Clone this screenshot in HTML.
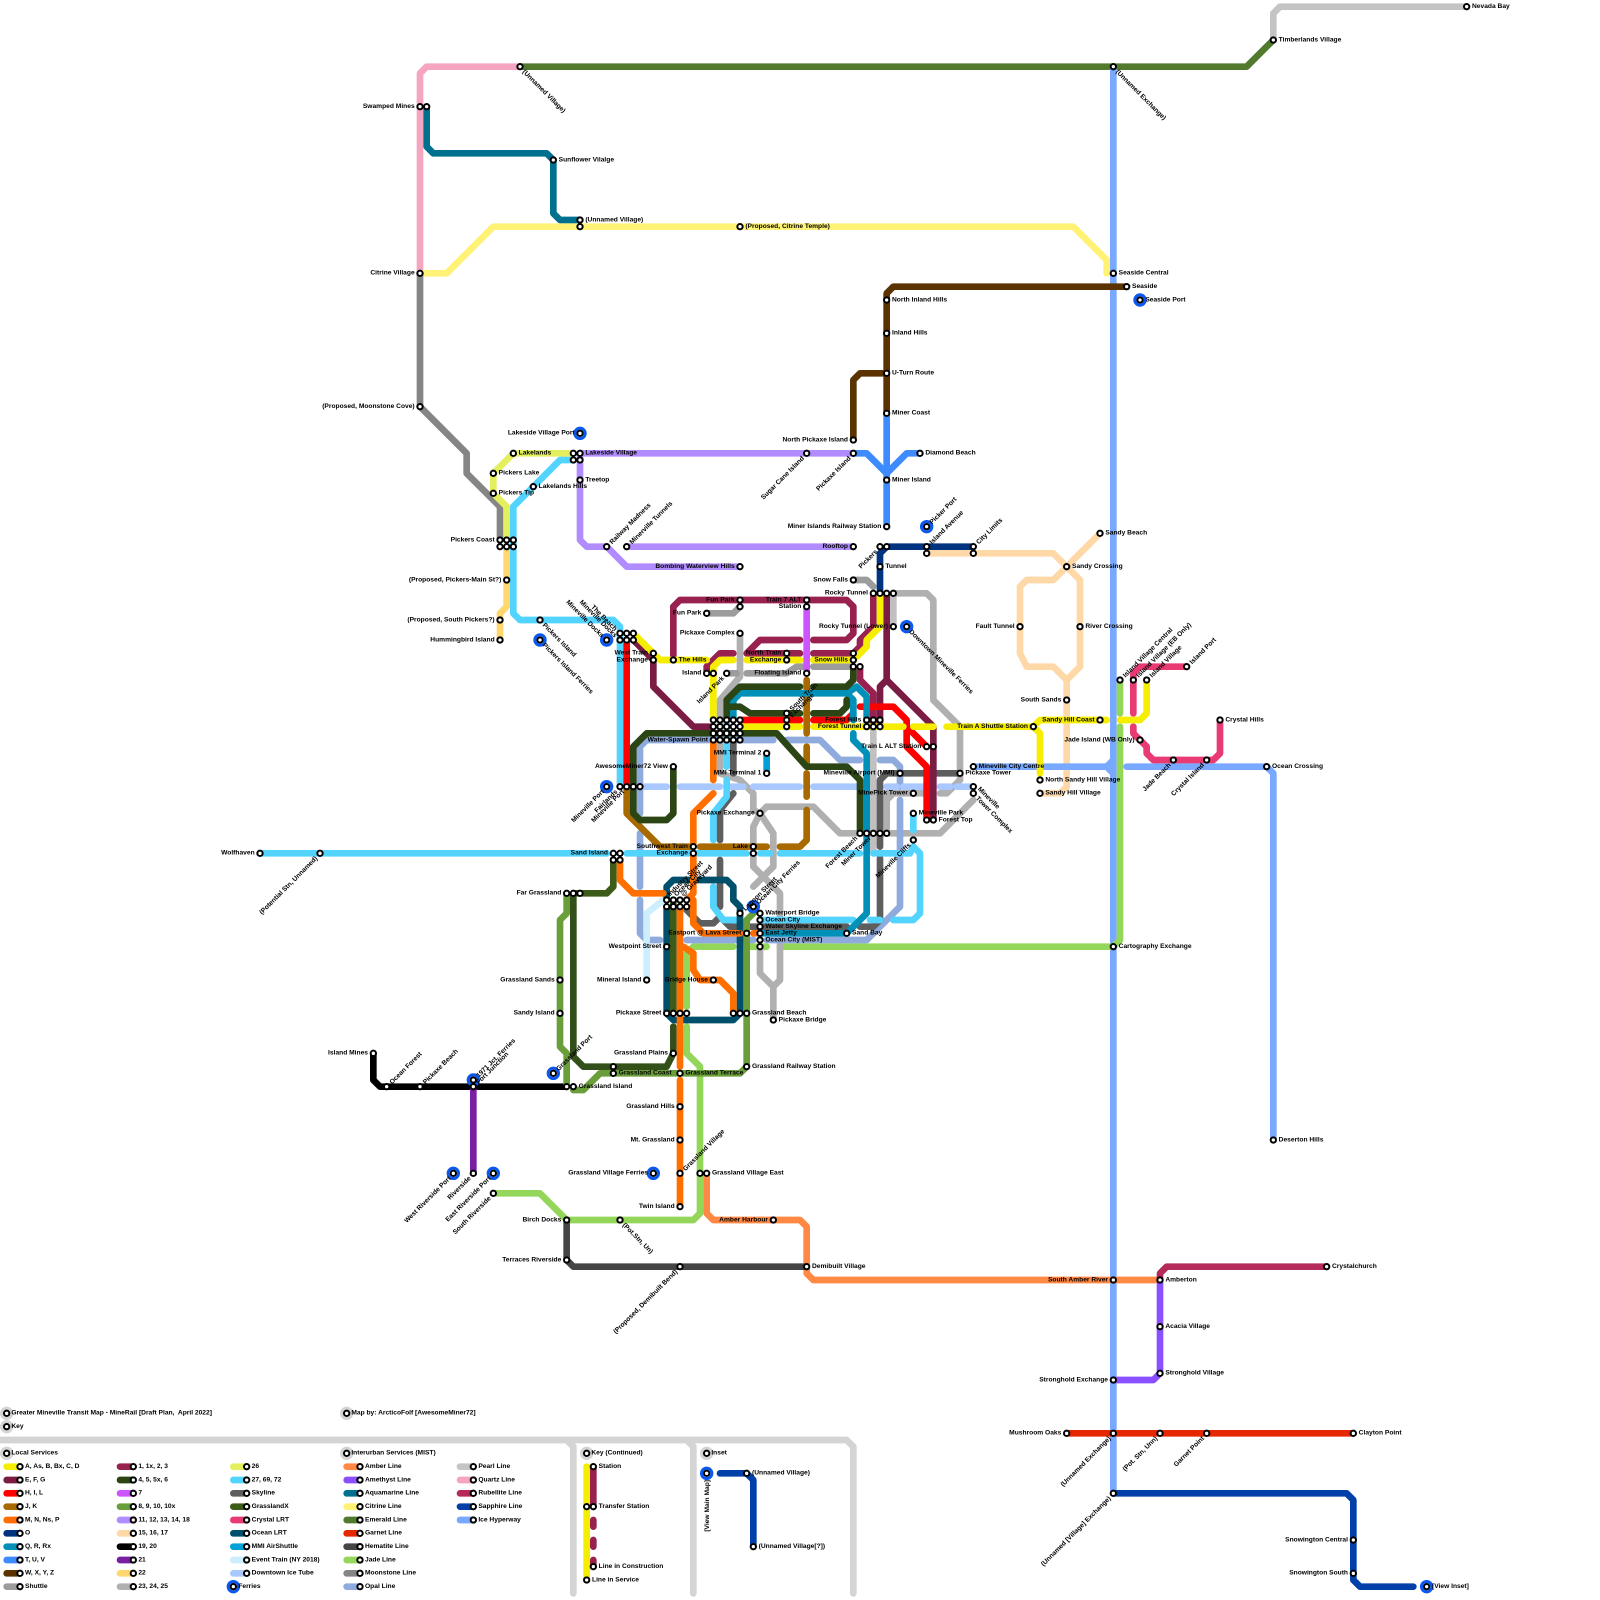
<!DOCTYPE html>
<html><head><meta charset="utf-8"><title>Greater Mineville Transit Map</title>
<style>
html,body{margin:0;padding:0;background:#fff}
svg{display:block;width:1600px;height:1600px}
text{font:bold 1px "Liberation Sans",sans-serif;fill:#000}
.e{text-anchor:end}
.l path{fill:none;stroke-width:1;stroke-linecap:round;stroke-linejoin:round}
.s circle{fill:#fff;stroke:#000;stroke-width:.3;r:.4px}
.f circle{fill:none;stroke:#0a58f0;stroke-width:.45;r:.78px}
.h circle{fill:#d4d4d4;r:1px}
</style></head><body>
<svg xmlns="http://www.w3.org/2000/svg" viewBox="0 0 240 240">
<g class="l">
<!-- legend frame -->
<path stroke="#d4d4d4" d="M0 216H127L128 217V239M85 216L86 217V239M87 216H85M103 216L104 217V239M105 216H103"/>
<!-- interurban -->
<path stroke="#c4c4c4" d="M191 6V2L192 1H220"/>
<path stroke="#527a2e" d="M78 10H187L191 6"/>
<path stroke="#f5a5c0" d="M78 10H64L63 11V41"/>
<path stroke="#00708f" d="M64 16V22L65 23H82L83 24V32L84 33H87"/>
<path stroke="#fff275" d="M63 41H67L74 34H161L166 39V41"/>
<path stroke="#858585" d="M63 41V61L70 68V71L75 76V81"/>
<path stroke="#ffd8a8" d="M139 83H158L160 85L162 87V100L160 102V116M165 80L158 87H154L153 88V98L154 100H158L160 102M160 116V118L159 119H156"/>
<path stroke="#c0c0c0" d="M134 94V89M131 109V128"/>
<path stroke="#78a8ff" d="M167 10V224M146 115H166L167 114M166 115L167 116M169 115H190L191 116V171"/>
<path stroke="#93d65a" d="M168 102V107M168 109V141L167 142H117M115 142H112M110 142H104L103 143V151M103 154V158L105 160V182L104 183H85L81 179H74"/>
<path stroke="#ff8844" d="M106 176V182L107 183H120L121 184V191L122 192H174"/>
<path stroke="#454545" d="M85 183V189L86 190H121"/>
<path stroke="#b42a5a" d="M174 192V191L175 190H199"/>
<path stroke="#8a4fff" d="M174 192V206L173 207H167"/>
<path stroke="#e62800" d="M160 215H203"/>
<path stroke="#0040a8" d="M167 224H202L203 225V237L204 238H212M108 221H112L113 222V232"/>
<!-- local gray services -->
<path stroke="#b0b0b0" d="M134 89H139L140 90V105L144 109V117L142 119H141M139 119H133L133 120V125M129 125H141L146 120M133 120L134 119M137 119H134"/>
<path stroke="#b0b0b0" d="M111 95V101.500L108 105V116L111 117L113 119V121.500L114 122L115 121H122L126 125H129M114 122L116 125V130L113 133M114 122L113 124V130L116 133L117 134V147L116 148V153M114 142V146L116 148"/>
<path stroke="#9c9c9c" d="M128 87H130L131 88M106 92H110L111 91M109 101H110.500M112 101H118L119.500 100H120.500M122 100H127.500"/>
<!-- opal -->
<path stroke="#8faadc" d="M96 122V112L97 111H116M118 111H123L126 114H129M132 114H134L135 115V118M135 120V136L130 141H115M113 141H103M96 125V133M96 135V140L97 141H99"/>
<path stroke="#a8c8ff" d="M96 118H100M102 118H108M109.500 118H111.500M113 118H120M122 118H129M133 118H134.500M135.500 118H139M141 118H142.500M143.500 118H146"/>
<path stroke="#cceeff" d="M97 147V137L99.500 135"/>
<!-- skyline -->
<path stroke="#5e5e5e" d="M110 111V116M110 119L108 121.500V126M108 129V136M103 136.500L105 138.500H107L108 137.500L109.500 139H110.500M112 139H127M129 139H131L132 138V128.700M132 127V117L133 116H138.500M140.500 116H144"/>
<!-- cyan -->
<path stroke="#53d4ff" d="M86 69H84L77 76V92L78 93H92L93 94V118M39 128H91M94 128H103.500M104.500 128H112M114 128H115.500M117 128H129M131 128H136.500L137 127L138 128V137L137 138H134M114 138H128M130.500 138H132M107 133V136L108.500 138H110.500M109 108V115M109 117V119.500L107 122V126M137 122V124.500"/>
<!-- purple 11 -->
<path stroke="#b18cff" d="M87 68H128M87 68V81L88 82H91L94 85H111M94 82H128"/>
<!-- 26, 22 -->
<path stroke="#e4ef5e" d="M86 68H77L74 71V74L76 76V81"/>
<path stroke="#ffd76e" d="M76 82V91L75 92V96"/>
<!-- T U V, brown -->
<path stroke="#3d8bff" d="M128 68H130L133 71L136 68H138M133 62V79"/>
<path stroke="#5a3300" d="M169 43H134L133 44V62M133 56H129L128 57V66"/>
<path stroke="#003380" d="M132 89V83L133 82H146"/>
<!-- black, purple 21 -->
<path stroke="#000" d="M56 158V162L57 163H85"/>
<path stroke="#7b1fa2" d="M71 163V176"/>
<!-- crystal, green -->
<path stroke="#e83b74" d="M170 102V107M170 109V110L172 112V113L173 114H182L183 113V108M170 102V101L171 100H178"/>
<path stroke="#6a9e3a" d="M85 134V137L84 138V157L85 158V163M86 163.500H87.500L90 161H111L112 160V138L113 137"/>
<!-- ocean lrt, grasslandx -->
<path stroke="#3d5c1a" d="M101 135V152M86 134H91L92 133V129"/>
<path stroke="#33501a" d="M101 154V158L100 160H87.500L86 158.500V134"/>
<path stroke="#004f6b" d="M100 135V133L101 132H109L110 133V135L111 136V152L110 153H101L100 152V136"/>
<!-- orange -->
<path stroke="#ff6f00" d="M107 111V117M107 119L104 122V126.500M104 128.500V134L103 135M102 136V160M102 162V181M93 129V132L95 134H99.500M104 135V138.500L105.500 140H111M113 140H114M102.500 142L104 143V145.500L105 147H108L110 149V152"/>
<!-- brown J K -->
<path stroke="#a86a00" d="M94 118V122L99 127H103.500M105 127H115M117 127H120L121 126V121.500M121 119.500V116M121 114.500V112M121 110V102"/>
<!-- violet 7 -->
<path stroke="#cc55ff" d="M121 91V101"/>
<!-- maroon -->
<path stroke="#98214f" d="M101 99V91L102 90H127L128 91V95L127 96H122M120 96H114L112 98M106 101V100L108 98H110M112 98H120M122 98H128L129 97V96L131 94V89M129 100V102L131 104V109"/>
<path stroke="#7a1c44" d="M95 96L98 99V103L104 109H107M133 89V102L132 103V109M133 102L140 109V123"/>
<!-- red -->
<path stroke="#ff0000" d="M94 96V118M111 108H120M122 108H127L128 107M129 106H134L136 108V112L139 115V123M136 109L139 112"/>
<!-- teal Q R -->
<path stroke="#0090b8" d="M110 108V105L111 104H127L128.500 103L130 104.500V109M127 104L128 105V108M128 110V111L130 113V137L127.500 139.500L127 140H114"/>
<path stroke="#00a0d8" d="M115 113V116"/>
<!-- yellow -->
<path stroke="#f5ee00" d="M95 95L99 99H106M107 108V100L108 99H110M112 99H120M122 99H128L130 97V96L132 94V89M111 109H120M122 109H135.500M137 109H140M142 109H155L156 110V116M155 109L156 108H165L166 108M168 108H171L172 107V102"/>
<!-- dark green -->
<path stroke="#2b4514" d="M95 118V112L97 110H116.500L121 115H127L129 117V125M95 113V122L96 123H100L101 122V115M109 108V105L111 103H120M122 103H127L128 102V100M109 106H111L112.500 107H120M122 107H126L127 106V105"/>
<!-- legend swatches -->
<path stroke="#f5ee00" d="M1 220H3M88 220V237"/>
<path stroke="#7a1c44" d="M1 222H3"/><path stroke="#ff0000" d="M1 224H3"/><path stroke="#a86a00" d="M1 226H3"/><path stroke="#ff6f00" d="M1 228H3"/><path stroke="#003380" d="M1 230H3"/><path stroke="#0090b8" d="M1 232H3"/><path stroke="#3d8bff" d="M1 234H3"/><path stroke="#5a3300" d="M1 236H3"/><path stroke="#9c9c9c" d="M1 238H3"/>
<path stroke="#98214f" d="M18 220H20M89 220V226M89 228V229M89 231V232M89 234V235"/><path stroke="#2b4514" d="M18 222H20"/><path stroke="#cc55ff" d="M18 224H20"/><path stroke="#6a9e3a" d="M18 226H20"/><path stroke="#b18cff" d="M18 228H20"/><path stroke="#ffd8a8" d="M18 230H20"/><path stroke="#000" d="M18 232H20"/><path stroke="#7b1fa2" d="M18 234H20"/><path stroke="#ffd76e" d="M18 236H20"/><path stroke="#b0b0b0" d="M18 238H20"/>
<path stroke="#e4ef5e" d="M35 220H37"/><path stroke="#53d4ff" d="M35 222H37"/><path stroke="#5e5e5e" d="M35 224H37"/><path stroke="#3d5c1a" d="M35 226H37"/><path stroke="#e83b74" d="M35 228H37"/><path stroke="#004f6b" d="M35 230H37"/><path stroke="#00a0d8" d="M35 232H37"/><path stroke="#cceeff" d="M35 234H37"/><path stroke="#a8c8ff" d="M35 236H37"/>
<path stroke="#ff8844" d="M52 220H54"/><path stroke="#8a4fff" d="M52 222H54"/><path stroke="#00708f" d="M52 224H54"/><path stroke="#fff275" d="M52 226H54"/><path stroke="#527a2e" d="M52 228H54"/><path stroke="#e62800" d="M52 230H54"/><path stroke="#454545" d="M52 232H54"/><path stroke="#93d65a" d="M52 234H54"/><path stroke="#858585" d="M52 236H54"/><path stroke="#8faadc" d="M52 238H54"/>
<path stroke="#c4c4c4" d="M69 220H71"/><path stroke="#f5a5c0" d="M69 222H71"/><path stroke="#b42a5a" d="M69 224H71"/><path stroke="#0040a8" d="M69 226H71"/><path stroke="#78a8ff" d="M69 228H71"/>
</g>
<g class="h"><circle cx="1" cy="212"/><circle cx="1" cy="214"/><circle cx="52" cy="212"/><circle cx="1" cy="218"/><circle cx="52" cy="218"/><circle cx="88" cy="218"/><circle cx="106" cy="218"/></g>
<g class="f"><circle cx="87" cy="65"/><circle cx="171" cy="45"/><circle cx="139" cy="79"/><circle cx="81" cy="96"/><circle cx="91" cy="96"/><circle cx="136" cy="94"/><circle cx="91" cy="118"/><circle cx="113" cy="136"/><circle cx="83" cy="161"/><circle cx="71" cy="162"/><circle cx="68" cy="176"/><circle cx="74" cy="176"/><circle cx="98" cy="176"/><circle cx="214" cy="238"/><circle cx="35" cy="238"/><circle cx="106" cy="221"/></g>
<g class="s">
<circle cx="220" cy="1"/><circle cx="191" cy="6"/><circle cx="78" cy="10"/><circle cx="167" cy="10"/><circle cx="63" cy="16"/><circle cx="64" cy="16"/><circle cx="83" cy="24"/><circle cx="87" cy="33"/><circle cx="87" cy="34"/><circle cx="111" cy="34"/><circle cx="63" cy="41"/><circle cx="167" cy="41"/><circle cx="169" cy="43"/><circle cx="171" cy="45"/><circle cx="133" cy="45"/><circle cx="133" cy="50"/><circle cx="133" cy="56"/><circle cx="133" cy="62"/><circle cx="63" cy="61"/><circle cx="128" cy="66"/><circle cx="121" cy="68"/><circle cx="128" cy="68"/><circle cx="138" cy="68"/><circle cx="133" cy="72"/><circle cx="133" cy="79"/><circle cx="87" cy="65"/><circle cx="86" cy="68"/><circle cx="87" cy="68"/><circle cx="86" cy="69"/><circle cx="87" cy="69"/><circle cx="77" cy="68"/><circle cx="74" cy="71"/><circle cx="74" cy="74"/><circle cx="80" cy="73"/><circle cx="87" cy="72"/><circle cx="91" cy="82"/><circle cx="94" cy="82"/><circle cx="128" cy="82"/><circle cx="132" cy="82"/><circle cx="133" cy="82"/><circle cx="139" cy="79"/><circle cx="139" cy="82"/><circle cx="139" cy="83"/><circle cx="146" cy="82"/><circle cx="146" cy="83"/><circle cx="132" cy="85"/>
<circle cx="75" cy="81"/><circle cx="76" cy="81"/><circle cx="77" cy="81"/><circle cx="75" cy="82"/><circle cx="76" cy="82"/><circle cx="77" cy="82"/><circle cx="76" cy="87"/><circle cx="75" cy="93"/><circle cx="75" cy="96"/><circle cx="81" cy="93"/><circle cx="81" cy="96"/><circle cx="111" cy="85"/><circle cx="128" cy="87"/><circle cx="131" cy="89"/><circle cx="132" cy="89"/><circle cx="133" cy="89"/><circle cx="134" cy="89"/><circle cx="165" cy="80"/><circle cx="160" cy="85"/><circle cx="162" cy="94"/><circle cx="153" cy="94"/><circle cx="111" cy="90"/><circle cx="111" cy="91"/><circle cx="121" cy="90"/><circle cx="121" cy="91"/><circle cx="106" cy="92"/><circle cx="111" cy="95"/><circle cx="134" cy="94"/><circle cx="136" cy="94"/>
<circle cx="91" cy="96"/><circle cx="93" cy="95"/><circle cx="94" cy="95"/><circle cx="95" cy="95"/><circle cx="93" cy="96"/><circle cx="94" cy="96"/><circle cx="95" cy="96"/><circle cx="98" cy="98"/><circle cx="98" cy="99"/><circle cx="101" cy="99"/><circle cx="118" cy="98"/><circle cx="118" cy="99"/><circle cx="128" cy="98"/><circle cx="128" cy="99"/><circle cx="128" cy="100"/><circle cx="129" cy="100"/><circle cx="106" cy="101"/><circle cx="107" cy="101"/><circle cx="109" cy="101"/><circle cx="121" cy="101"/><circle cx="118" cy="107"/><circle cx="118" cy="108"/><circle cx="118" cy="109"/><circle cx="130" cy="108"/><circle cx="131" cy="108"/><circle cx="132" cy="108"/><circle cx="130" cy="109"/><circle cx="131" cy="109"/><circle cx="132" cy="109"/>
<circle cx="107" cy="108"/><circle cx="108" cy="108"/><circle cx="109" cy="108"/><circle cx="110" cy="108"/><circle cx="111" cy="108"/><circle cx="107" cy="109"/><circle cx="108" cy="109"/><circle cx="109" cy="109"/><circle cx="110" cy="109"/><circle cx="111" cy="109"/><circle cx="107" cy="110"/><circle cx="108" cy="110"/><circle cx="109" cy="110"/><circle cx="110" cy="110"/><circle cx="111" cy="110"/><circle cx="107" cy="111"/><circle cx="108" cy="111"/><circle cx="109" cy="111"/><circle cx="110" cy="111"/><circle cx="111" cy="111"/>
<circle cx="115" cy="113"/><circle cx="115" cy="116"/><circle cx="101" cy="115"/><circle cx="91" cy="118"/><circle cx="93" cy="118"/><circle cx="94" cy="118"/><circle cx="95" cy="118"/><circle cx="96" cy="118"/><circle cx="139" cy="112"/><circle cx="140" cy="112"/><circle cx="135" cy="116"/><circle cx="144" cy="116"/><circle cx="146" cy="115"/><circle cx="137" cy="119"/><circle cx="146" cy="118"/><circle cx="146" cy="119"/><circle cx="137" cy="122"/><circle cx="139" cy="123"/><circle cx="140" cy="123"/><circle cx="114" cy="122"/><circle cx="129" cy="125"/><circle cx="130" cy="125"/><circle cx="131" cy="125"/><circle cx="132" cy="125"/><circle cx="133" cy="125"/><circle cx="104" cy="127"/><circle cx="104" cy="128"/><circle cx="113" cy="127"/><circle cx="113" cy="128"/><circle cx="137" cy="126"/><circle cx="92" cy="128"/><circle cx="93" cy="128"/><circle cx="92" cy="129"/><circle cx="93" cy="129"/><circle cx="39" cy="128"/><circle cx="48" cy="128"/>
<circle cx="155" cy="109"/><circle cx="165" cy="108"/><circle cx="160" cy="105"/><circle cx="168" cy="102"/><circle cx="170" cy="102"/><circle cx="172" cy="102"/><circle cx="178" cy="100"/><circle cx="183" cy="108"/><circle cx="171" cy="111"/><circle cx="176" cy="114"/><circle cx="181" cy="114"/><circle cx="190" cy="115"/><circle cx="191" cy="171"/><circle cx="156" cy="117"/><circle cx="156" cy="119"/>
<circle cx="85" cy="134"/><circle cx="86" cy="134"/><circle cx="87" cy="134"/><circle cx="100" cy="135"/><circle cx="101" cy="135"/><circle cx="102" cy="135"/><circle cx="103" cy="135"/><circle cx="100" cy="136"/><circle cx="101" cy="136"/><circle cx="102" cy="136"/><circle cx="103" cy="136"/><circle cx="113" cy="136"/><circle cx="111" cy="137"/><circle cx="114" cy="137"/><circle cx="114" cy="138"/><circle cx="114" cy="139"/><circle cx="114" cy="140"/><circle cx="114" cy="141"/><circle cx="114" cy="142"/><circle cx="112" cy="140"/><circle cx="127" cy="140"/><circle cx="100" cy="142"/><circle cx="167" cy="142"/><circle cx="84" cy="147"/><circle cx="97" cy="147"/><circle cx="107" cy="147"/><circle cx="84" cy="152"/><circle cx="100" cy="152"/><circle cx="101" cy="152"/><circle cx="102" cy="152"/><circle cx="103" cy="152"/><circle cx="110" cy="152"/><circle cx="111" cy="152"/><circle cx="112" cy="152"/><circle cx="116" cy="153"/><circle cx="56" cy="158"/><circle cx="101" cy="158"/><circle cx="112" cy="160"/><circle cx="92" cy="160"/><circle cx="92" cy="161"/><circle cx="102" cy="161"/><circle cx="83" cy="161"/><circle cx="85" cy="163"/><circle cx="86" cy="163"/><circle cx="58" cy="163"/><circle cx="63" cy="163"/><circle cx="71" cy="162"/><circle cx="71" cy="163"/><circle cx="102" cy="166"/><circle cx="102" cy="171"/><circle cx="98" cy="176"/><circle cx="102" cy="176"/><circle cx="105" cy="176"/><circle cx="106" cy="176"/><circle cx="68" cy="176"/><circle cx="71" cy="176"/><circle cx="74" cy="176"/><circle cx="74" cy="179"/><circle cx="102" cy="181"/><circle cx="85" cy="183"/><circle cx="93" cy="183"/><circle cx="116" cy="183"/><circle cx="85" cy="189"/><circle cx="102" cy="190"/><circle cx="121" cy="190"/><circle cx="199" cy="190"/><circle cx="167" cy="192"/><circle cx="174" cy="192"/><circle cx="174" cy="199"/><circle cx="174" cy="206"/><circle cx="167" cy="207"/><circle cx="160" cy="215"/><circle cx="203" cy="215"/><circle cx="167" cy="215"/><circle cx="174" cy="215"/><circle cx="181" cy="215"/><circle cx="167" cy="224"/><circle cx="203" cy="231"/><circle cx="203" cy="236"/><circle cx="214" cy="238"/>
<!-- legend -->
<circle cx="1" cy="212"/><circle cx="1" cy="214"/><circle cx="52" cy="212"/><circle cx="1" cy="218"/><circle cx="52" cy="218"/><circle cx="88" cy="218"/><circle cx="106" cy="218"/>
<circle cx="3" cy="220"/><circle cx="3" cy="222"/><circle cx="3" cy="224"/><circle cx="3" cy="226"/><circle cx="3" cy="228"/><circle cx="3" cy="230"/><circle cx="3" cy="232"/><circle cx="3" cy="234"/><circle cx="3" cy="236"/><circle cx="3" cy="238"/>
<circle cx="20" cy="220"/><circle cx="20" cy="222"/><circle cx="20" cy="224"/><circle cx="20" cy="226"/><circle cx="20" cy="228"/><circle cx="20" cy="230"/><circle cx="20" cy="232"/><circle cx="20" cy="234"/><circle cx="20" cy="236"/><circle cx="20" cy="238"/>
<circle cx="37" cy="220"/><circle cx="37" cy="222"/><circle cx="37" cy="224"/><circle cx="37" cy="226"/><circle cx="37" cy="228"/><circle cx="37" cy="230"/><circle cx="37" cy="232"/><circle cx="37" cy="234"/><circle cx="37" cy="236"/><circle cx="35" cy="238"/>
<circle cx="54" cy="220"/><circle cx="54" cy="222"/><circle cx="54" cy="224"/><circle cx="54" cy="226"/><circle cx="54" cy="228"/><circle cx="54" cy="230"/><circle cx="54" cy="232"/><circle cx="54" cy="234"/><circle cx="54" cy="236"/><circle cx="54" cy="238"/>
<circle cx="71" cy="220"/><circle cx="71" cy="222"/><circle cx="71" cy="224"/><circle cx="71" cy="226"/><circle cx="71" cy="228"/>
<circle cx="89" cy="220"/><circle cx="88" cy="226"/><circle cx="89" cy="226"/><circle cx="89" cy="235"/><circle cx="88" cy="237"/><circle cx="106" cy="221"/><circle cx="112" cy="221"/><circle cx="113" cy="232"/>
</g>
<!-- labels: left-aligned -->
<g transform="translate(0 -.15)">
<text x="220.800" y="1.350">Nevada Bay</text><text x="191.800" y="6.350">Timberlands Village</text><text x="83.800" y="24.350">Sunflower Vilalge</text><text x="87.800" y="33.350">(Unnamed Village)</text><text x="111.800" y="34.350">(Proposed, Citrine Temple)</text><text x="167.800" y="41.350">Seaside Central</text><text x="169.800" y="43.350">Seaside</text><text x="171.800" y="45.350">Seaside Port</text><text x="133.800" y="45.350">North Inland Hills</text><text x="133.800" y="50.350">Inland Hills</text><text x="133.800" y="56.350">U-Turn Route</text><text x="133.800" y="62.350">Miner Coast</text><text x="138.800" y="68.350">Diamond Beach</text><text x="133.800" y="72.350">Miner Island</text><text x="87.800" y="68.350">Lakeside Village</text><text x="77.800" y="68.350">Lakelands</text><text x="74.800" y="71.350">Pickers Lake</text><text x="74.800" y="74.350">Pickers Tip</text><text x="80.800" y="73.350">Lakelands Hills</text><text x="87.800" y="72.350">Treetop</text><text x="132.800" y="85.350">Tunnel</text><text x="165.800" y="80.350">Sandy Beach</text><text x="160.800" y="85.350">Sandy Crossing</text><text x="162.800" y="94.350">River Crossing</text><text x="101.800" y="99.350">The Hills</text><text x="183.800" y="108.350">Crystal Hills</text><text x="190.800" y="115.350">Ocean Crossing</text><text x="146.800" y="115.350">Mineville City Centre</text><text x="144.800" y="116.350">Pickaxe Tower</text><text x="156.800" y="117.350">North Sandy Hill Village</text><text x="156.800" y="119.350">Sandy Hill Village</text><text x="137.800" y="122.350">Mineville Park</text><text x="140.800" y="123.350">Forest Top</text><text x="114.800" y="137.350">Waterport Bridge</text><text x="114.800" y="138.350">Ocean City</text><text x="114.800" y="139.350">Water Skyline Exchange</text><text x="114.800" y="140.350">East Jetty</text><text x="114.800" y="141.350">Ocean City (MIST)</text><text x="127.800" y="140.350">Sand Bay</text><text x="167.800" y="142.350">Cartography Exchange</text><text x="112.800" y="152.350">Grassland Beach</text><text x="116.800" y="153.350">Pickaxe Bridge</text><text x="112.800" y="160.350">Grassland Railway Station</text><text x="92.800" y="161.350">Grassland Coast</text><text x="102.800" y="161.350">Grassland Terrace</text><text x="86.800" y="163.350">Grassland Island</text><text x="191.800" y="171.350">Deserton Hills</text><text x="106.800" y="176.350">Grassland Village East</text><text x="121.800" y="190.350">Demibuilt Village</text><text x="199.800" y="190.350">Crystalchurch</text><text x="174.800" y="192.350">Amberton</text><text x="174.800" y="199.350">Acacia Village</text><text x="174.800" y="206.350">Stronghold Village</text><text x="203.800" y="215.350">Clayton Point</text><text x="214.800" y="238.350">[View Inset]</text>
</g>
<!-- labels: right-aligned -->
<g class="e" transform="translate(0 -.15)">
<text x="62.200" y="16.350">Swamped Mines</text><text x="62.200" y="41.350">Citrine Village</text><text x="62.200" y="61.350">(Proposed, Moonstone Cove)</text><text x="127.200" y="66.350">North Pickaxe Island</text><text x="132.200" y="79.350">Miner Islands Railway Station</text><text x="86.200" y="65.350">Lakeside Village Port</text><text x="127.200" y="82.350">Rooftop</text><text x="74.200" y="81.350">Pickers Coast</text><text x="75.200" y="87.350">(Proposed, Pickers-Main St?)</text><text x="74.200" y="93.350">(Proposed, South Pickers?)</text><text x="74.200" y="96.350">Hummingbird Island</text><text x="110.200" y="85.350">Bombing Waterview Hills</text><text x="127.200" y="87.350">Snow Falls</text><text x="130.200" y="89.350">Rocky Tunnel</text><text x="152.200" y="94.350">Fault Tunnel</text><text x="110.200" y="90.350">Fun Park</text><text x="120.200" y="90.350">Train 7 ALT</text><text x="120.200" y="91.350">Station</text><text x="105.200" y="92.350">Fun Park</text><text x="110.200" y="95.350">Pickaxe Complex</text><text x="133.200" y="94.350">Rocky Tunnel (Lower)</text><text x="97.200" y="98.350">West Train</text><text x="97.200" y="99.350">Exchange</text><text x="117.200" y="98.350">North Train</text><text x="117.200" y="99.350">Exchange</text><text x="127.200" y="99.350">Snow Hills</text><text x="105.200" y="101.350">Island</text><text x="120.200" y="101.350">Floating Island</text><text x="129.200" y="108.350">Forest Hills</text><text x="129.200" y="109.350">Forest Tunnel</text><text x="106.200" y="111.350">Water-Spawn Point</text><text x="138.200" y="112.350">Train L ALT Station</text><text x="154.200" y="109.350">Train A Shuttle Station</text><text x="164.200" y="108.350">Sandy Hill Coast</text><text x="159.200" y="105.350">South Sands</text><text x="170.200" y="111.350">Jade Island (WB Only)</text><text x="134.200" y="116.350">Mineville Airport (MMI)</text><text x="136.200" y="119.350">MinePick Tower</text><text x="100.200" y="115.350">AwesomeMiner72 View</text><text x="114.200" y="113.350">MMI Terminal 2</text><text x="114.200" y="116.350">MMI Terminal 1</text><text x="113.200" y="122.350">Pickaxe Exchange</text><text x="103.200" y="127.350">Southwest Train</text><text x="103.200" y="128.350">Exchange</text><text x="112.200" y="127.350">Lake</text><text x="91.200" y="128.350">Sand Island</text><text x="38.200" y="128.350">Wolfhaven</text><text x="84.200" y="134.350">Far Grassland</text><text x="111.200" y="140.350">Eastport @ Lava Street</text><text x="99.200" y="142.350">Westpoint Street</text><text x="83.200" y="147.350">Grassland Sands</text><text x="96.200" y="147.350">Mineral Island</text><text x="106.200" y="147.350">Bridge House</text><text x="83.200" y="152.350">Sandy Island</text><text x="99.200" y="152.350">Pickaxe Street</text><text x="55.200" y="158.350">Island Mines</text><text x="100.200" y="158.350">Grassland Plains</text><text x="101.200" y="166.350">Grassland Hills</text><text x="101.200" y="171.350">Mt. Grassland</text><text x="97.200" y="176.350">Grassland Village Ferries</text><text x="101.200" y="181.350">Twin Island</text><text x="84.200" y="183.350">Birch Docks</text><text x="115.200" y="183.350">Amber Harbour</text><text x="84.200" y="189.350">Terraces Riverside</text><text x="166.200" y="192.350">South Amber River</text><text x="166.200" y="207.350">Stronghold Exchange</text><text x="159.200" y="215.350">Mushroom Oaks</text><text x="202.200" y="231.350">Snowington Central</text><text x="202.200" y="236.350">Snowington South</text>
</g>
<!-- up-right -->
<g>
<text transform="translate(91.820 81.680) rotate(-45)">Railway Madness</text><text transform="translate(94.820 81.680) rotate(-45)">Minerville Tunnels</text><text transform="translate(139.820 78.680) rotate(-45)">Picker Port</text><text transform="translate(139.820 81.680) rotate(-45)">Island Avenue</text><text transform="translate(146.820 81.680) rotate(-45)">City Limits</text><text transform="translate(118.820 106.680) rotate(-45)">South Train</text><text transform="translate(118.820 107.680) rotate(-45)">Exchange</text><text transform="translate(168.820 101.680) rotate(-45)">Island Village Central</text><text transform="translate(170.820 101.680) rotate(-45)">Island Village (EB Only)</text><text transform="translate(172.820 101.680) rotate(-45)">Island Village</text><text transform="translate(178.820 99.680) rotate(-45)">Island Port</text><text transform="translate(100.500 134.500) rotate(-45)">Industry Street</text><text transform="translate(101.500 134.500) rotate(-45)">Ocean City</text><text transform="translate(102.500 134.500) rotate(-45)">@ Graveyard</text><text transform="translate(111.820 136.680) rotate(-45)">Lagoon Street</text><text transform="translate(113.820 135.680) rotate(-45)">Ocean City Ferries</text><text transform="translate(83.820 160.680) rotate(-45)">Grassland Port</text><text transform="translate(58.820 162.680) rotate(-45)">Ocean Forest</text><text transform="translate(63.820 162.680) rotate(-45)">Pickaxe Beach</text><text transform="translate(71.820 161.680) rotate(-45)">1971 Jct. Ferries</text><text transform="translate(71.820 162.680) rotate(-45)">Fort Junction</text><text transform="translate(102.820 175.680) rotate(-45)">Grassland Village</text>
</g>
<!-- down-right -->
<g>
<text transform="translate(78.320 10.820) rotate(45)">(Unnamed Village)</text><text transform="translate(167.320 10.820) rotate(45)">(Unnamed Exchange)</text><text transform="translate(81.320 93.820) rotate(45)">Pickers Island</text><text transform="translate(81.320 96.820) rotate(45)">Pickers Island Ferries</text><text transform="translate(136.320 94.820) rotate(45)">Downtown Mineville Ferries</text><text transform="translate(146.600 118.400) rotate(45)">Mineville</text><text transform="translate(146.320 119.820) rotate(45)">Tower Complex</text><text transform="translate(93.320 183.820) rotate(45)">(Pot.Stn, Un)</text>
</g>
<!-- down-left / upper-left end anchored -->
<g class="e">
<text transform="translate(120.680 68.820) rotate(-45)">Sugar Cane Island</text><text transform="translate(127.680 68.820) rotate(-45)">Pickaxe Island</text><text transform="translate(131.680 82.820) rotate(-45)">Pickers</text><text transform="translate(108.680 101.820) rotate(-45)">Island Park</text><text transform="translate(175.680 114.820) rotate(-45)">Jade Beach</text><text transform="translate(180.680 114.820) rotate(-45)">Crystal Island</text><text transform="translate(90.680 118.820) rotate(-45)">Mineville Port</text><text transform="translate(92.680 118.820) rotate(-45)">Fairlands</text><text transform="translate(93.680 118.820) rotate(-45)">Mineville Port</text><text transform="translate(128.680 125.820) rotate(-45)">Forest Beach</text><text transform="translate(130.680 125.820) rotate(-45)">Miner Tower</text><text transform="translate(136.680 126.820) rotate(-45)">Mineville Cliffs</text><text transform="translate(47.680 128.820) rotate(-45)">(Potential Stn, Unnamed)</text><text transform="translate(67.680 176.820) rotate(-45)">West Riverside Port</text><text transform="translate(70.680 176.820) rotate(-45)">Riverside</text><text transform="translate(73.680 176.820) rotate(-45)">East Riverside Port</text><text transform="translate(73.680 179.820) rotate(-45)">South Riverside</text><text transform="translate(101.680 190.820) rotate(-45)">(Proposed, Demibuilt Bend)</text><text transform="translate(166.680 215.820) rotate(-45)">(Unnamed Exchange)</text><text transform="translate(173.680 215.820) rotate(-45)">(Pot. Stn, Unn)</text><text transform="translate(180.680 215.820) rotate(-45)">Garnet Point</text><text transform="translate(166.680 224.820) rotate(-45)">(Unnamed [Village] Exchange)</text>
<text transform="translate(92.180 94.680) rotate(45)">The Beach</text><text transform="translate(92.180 95.680) rotate(45)">Mineville Docks</text><text transform="translate(90.180 95.680) rotate(45)">Mineville Docks</text>
<text transform="translate(106.350 222) rotate(-90)">[View Main Map]</text>
</g>
<!-- legend text -->
<g transform="translate(0 -.15)">
<text x="1.700" y="212.350">Greater Mineville Transit Map - MineRail [Draft Plan,&#160; April 2022]</text><text x="1.700" y="214.350">Key</text><text x="52.700" y="212.350">Map by: ArcticoFolf [AwesomeMiner72]</text><text x="1.700" y="218.350">Local Services</text><text x="52.700" y="218.350">Interurban Services (MIST)</text><text x="88.700" y="218.350">Key (Continued)</text><text x="106.700" y="218.350">Inset</text>
<text x="3.750" y="220.350">A, As, B, Bx, C, D</text><text x="3.750" y="222.350">E, F, G</text><text x="3.750" y="224.350">H, I, L</text><text x="3.750" y="226.350">J, K</text><text x="3.750" y="228.350">M, N, Ns, P</text><text x="3.750" y="230.350">O</text><text x="3.750" y="232.350">Q, R, Rx</text><text x="3.750" y="234.350">T, U, V</text><text x="3.750" y="236.350">W, X, Y, Z</text><text x="3.750" y="238.350">Shuttle</text>
<text x="20.750" y="220.350">1, 1x, 2, 3</text><text x="20.750" y="222.350">4, 5, 5x, 6</text><text x="20.750" y="224.350">7</text><text x="20.750" y="226.350">8, 9, 10, 10x</text><text x="20.750" y="228.350">11, 12, 13, 14, 18</text><text x="20.750" y="230.350">15, 16, 17</text><text x="20.750" y="232.350">19, 20</text><text x="20.750" y="234.350">21</text><text x="20.750" y="236.350">22</text><text x="20.750" y="238.350">23, 24, 25</text>
<text x="37.750" y="220.350">26</text><text x="37.750" y="222.350">27, 69, 72</text><text x="37.750" y="224.350">Skyline</text><text x="37.750" y="226.350">GrasslandX</text><text x="37.750" y="228.350">Crystal LRT</text><text x="37.750" y="230.350">Ocean LRT</text><text x="37.750" y="232.350">MMI AirShuttle</text><text x="37.750" y="234.350">Event Train (NY 2018)</text><text x="37.750" y="236.350">Downtown Ice Tube</text><text x="35.750" y="238.350">Ferries</text>
<text x="54.750" y="220.350">Amber Line</text><text x="54.750" y="222.350">Amethyst Line</text><text x="54.750" y="224.350">Aquamarine Line</text><text x="54.750" y="226.350">Citrine Line</text><text x="54.750" y="228.350">Emerald Line</text><text x="54.750" y="230.350">Garnet Line</text><text x="54.750" y="232.350">Hematite Line</text><text x="54.750" y="234.350">Jade Line</text><text x="54.750" y="236.350">Moonstone Line</text><text x="54.750" y="238.350">Opal Line</text>
<text x="71.750" y="220.350">Pearl Line</text><text x="71.750" y="222.350">Quartz Line</text><text x="71.750" y="224.350">Rubellite Line</text><text x="71.750" y="226.350">Sapphire Line</text><text x="71.750" y="228.350">Ice Hyperway</text>
<text x="89.800" y="220.350">Station</text><text x="89.800" y="226.350">Transfer Station</text><text x="89.800" y="235.350">Line in Construction</text><text x="88.800" y="237.350">Line in Service</text>
<text x="112.800" y="221.350">(Unnamed Village)</text><text x="113.800" y="232.350">(Unnamed Village[?])</text>
</g>
</svg>
</body></html>
